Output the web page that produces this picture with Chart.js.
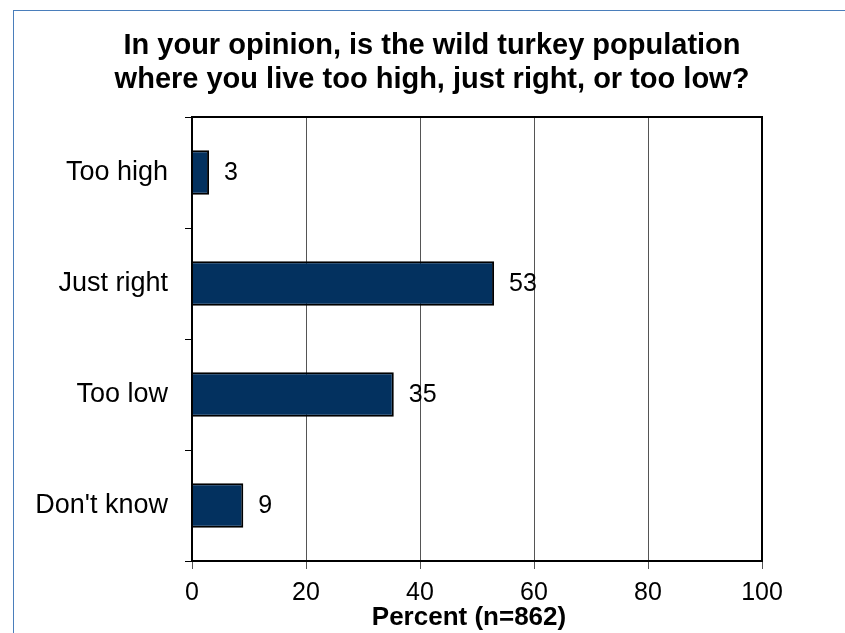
<!DOCTYPE html>
<html>
<head>
<meta charset="utf-8">
<script src="https://cdn.jsdelivr.net/npm/chart.js@4"></script>
<style>
  body { margin: 0; background: #fff; overflow: hidden; }
  #wrap { position: relative; width: 845px; height: 633px; }
  #frame { position: absolute; left: 13px; top: 10px; width: 900px; height: 700px; border: 1px solid #4a7ebb; box-sizing: border-box; }
  #myChart { position: absolute; left: 0; top: 0; }
</style>
</head>
<body>
<div id="wrap">
  <div id="frame"></div>
  <canvas id="myChart" width="845" height="633"></canvas>
</div>
<script>
const categories = ['Too high', 'Just right', 'Too low', "Don't know"];
const percents = [3, 53, 35.4, 9];
const valueLabels = ['3', '53', '35', '9'];
const xTicks = [0, 20, 40, 60, 80, 100];
const titleLines = ['In your opinion, is the wild turkey population', 'where you live too high, just right, or too low?'];
const xTitle = 'Percent (n=862)';

const FONT = "'Liberation Sans', Arial, sans-serif";

// titles, value labels and the box round the plot
const extras = {
    id: 'extras',
    afterDraw(chart) {
        const ctx = chart.ctx;
        const area = chart.chartArea;
        ctx.save();
        ctx.strokeStyle = '#000';
        ctx.lineWidth = 2;
        ctx.strokeRect(area.left, area.top, area.right - area.left, area.bottom - area.top);

        ctx.fillStyle = '#000';
        ctx.textAlign = 'center';
        ctx.textBaseline = 'alphabetic';
        ctx.font = 'bold 29px ' + FONT;
        ctx.fillText(titleLines[0], 432, 54);
        ctx.fillText(titleLines[1], 432, 88);

        ctx.font = 'bold 26px ' + FONT;
        ctx.fillText(xTitle, 469, 625);

        ctx.font = '25px ' + FONT;
        ctx.textAlign = 'left';
        ctx.textBaseline = 'middle';
        chart.getDatasetMeta(0).data.forEach((bar, i) => {
            ctx.fillText(valueLabels[i], bar.x + 15, bar.y + 1);
        });
        ctx.restore();
    }
};

const ctx = document.getElementById('myChart').getContext('2d');
const turkeyChart = new Chart(ctx, {
    type: 'bar',
    data: {
        labels: categories,
        datasets: [{
            data: percents,
            backgroundColor: '#03315f',
            borderColor: '#000',
            borderWidth: 2,
            barPercentage: 0.4,
            categoryPercentage: 1
        }]
    },
    options: {
        indexAxis: 'y',
        responsive: false,
        animation: false,
        layout: { padding: { top: 117, right: 83, left: 0, bottom: 0 } },
        plugins: {
            legend: { display: false },
            title: { display: false },
            tooltip: { enabled: false }
        },
        scales: {
            x: {
                min: 0,
                max: 100,
                afterBuildTicks: (scale) => { scale.ticks = xTicks.map(v => ({ value: v })); },
                afterFit: (scale) => { scale.height = 72; },
                grid: { color: '#555', lineWidth: 1, tickLength: 8, tickColor: '#555' },
                border: { display: false },
                ticks: { color: '#000', padding: 9, font: { family: FONT, size: 25 } }
            },
            y: {
                afterFit: (scale) => { scale.width = 192; },
                grid: { drawOnChartArea: false, tickLength: 7, tickColor: '#000', offset: true },
                border: { display: false },
                ticks: { color: '#000', padding: 17, font: { family: FONT, size: 27 } }
            }
        }
    },
    plugins: [extras]
});
</script>
</body>
</html>
